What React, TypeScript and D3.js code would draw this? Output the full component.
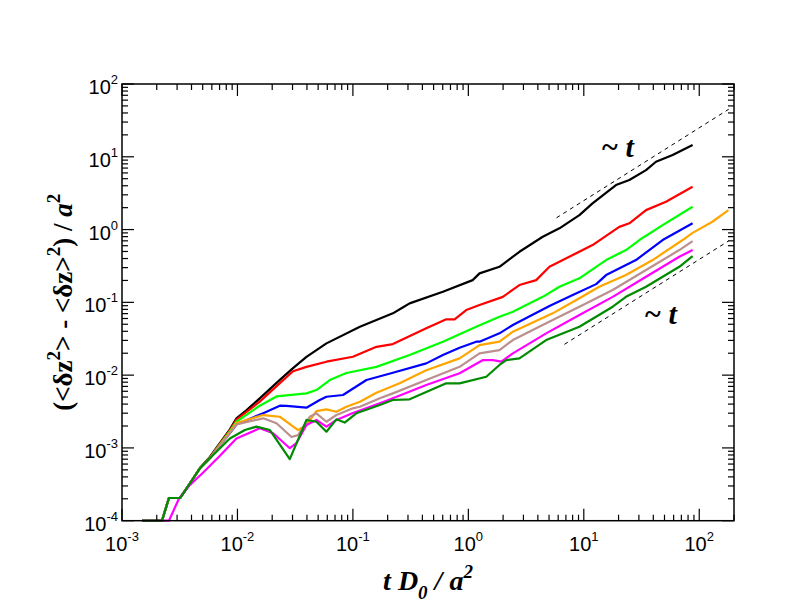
import React, { useEffect, useRef } from "react";
import * as d3 from "d3";

type Pt = [number, number];

// [t D0/a^2, (<dz^2> - <dz>^2)/a^2]
const black: Pt[] = [
  [0.00149, 1e-4], [0.00222, 1e-4], [0.00255, 2.05e-4], [0.00318, 2.05e-4],
  [0.00375, 3.0e-4], [0.00473, 5.3e-4], [0.00577, 7.5e-4], [0.0086, 1.8e-3],
  [0.0098, 2.55e-3], [0.012, 3.3e-3], [0.0156, 4.8e-3], [0.0233, 8.6e-3],
  [0.0303, 0.0125], [0.0396, 0.0178], [0.059, 0.0273], [0.115, 0.0462],
  [0.222, 0.0706], [0.27, 0.085], [0.31, 0.0968], [0.602, 0.14], [1.09, 0.202],
  [1.25, 0.25], [1.86, 0.308], [2.77, 0.495], [4.41, 0.796], [6.15, 1.04],
  [9.16, 1.58], [11.9, 2.29], [19.0, 4.09], [24.8, 4.79], [34.6, 6.56],
  [42.2, 8.54], [58.8, 10.6], [87.6, 14.5],
];

const red: Pt[] = [
  [0.00149, 1e-4], [0.00222, 1e-4], [0.00255, 2.05e-4], [0.00318, 2.05e-4],
  [0.00375, 3.0e-4], [0.00473, 5.25e-4], [0.00577, 7.4e-4], [0.0086, 1.75e-3],
  [0.0098, 2.45e-3], [0.0156, 4.32e-3], [0.0233, 7.78e-3], [0.0303, 0.0113],
  [0.0396, 0.013], [0.059, 0.0153], [0.1, 0.0179], [0.16, 0.0245],
  [0.222, 0.0267], [0.432, 0.044], [0.644, 0.0585], [0.76, 0.0585],
  [0.959, 0.0784], [1.25, 0.0918], [1.99, 0.119], [2.77, 0.173], [3.87, 0.202],
  [5.04, 0.308], [8.02, 0.446], [11.9, 0.612], [20.3, 1.09], [24.8, 1.22],
  [34.6, 1.85], [51.5, 2.41], [87.6, 3.87],
];

const lime: Pt[] = [
  [0.00149, 1e-4], [0.00222, 1e-4], [0.00255, 2.05e-4], [0.00318, 2.05e-4],
  [0.00375, 3.0e-4], [0.00473, 5.25e-4], [0.00577, 7.3e-4], [0.0086, 1.7e-3],
  [0.0098, 2.29e-3], [0.0156, 3.8e-3], [0.0218, 5.1e-3], [0.0396, 5.62e-3],
  [0.0483, 6.24e-3], [0.063, 8.57e-3], [0.0878, 0.0107], [0.16, 0.013],
  [0.31, 0.0189], [0.602, 0.0288], [1.17, 0.0462], [1.86, 0.0634],
  [2.43, 0.0743], [4.41, 0.119], [6.15, 0.164], [9.16, 0.214], [12.8, 0.308],
  [15.6, 0.381], [23.2, 0.523], [30.3, 0.718], [48.2, 1.15], [87.6, 2.06],
];

const blue: Pt[] = [
  [0.00149, 1e-4], [0.00222, 1e-4], [0.00255, 2.05e-4], [0.00318, 2.05e-4],
  [0.00375, 3.0e-4], [0.00473, 5.25e-4], [0.00577, 7.2e-4], [0.0086, 1.6e-3],
  [0.0098, 2.1e-3], [0.0167, 3.0e-3], [0.0233, 3.8e-3], [0.0266, 3.78e-3],
  [0.0396, 3.57e-3], [0.0516, 4.55e-3], [0.059, 5.05e-3], [0.0821, 5.33e-3],
  [0.131, 8.57e-3], [0.222, 0.0108], [0.432, 0.0145], [0.602, 0.0189],
  [0.84, 0.0238], [1.17, 0.0288], [1.25, 0.0288], [1.86, 0.0375],
  [2.43, 0.0488], [5.04, 0.0889], [8.02, 0.126], [12.8, 0.178], [15.6, 0.237],
  [28.3, 0.381], [48.2, 0.718], [87.6, 1.22],
];

const orange: Pt[] = [
  [0.00149, 1e-4], [0.00222, 1e-4], [0.00255, 2.05e-4], [0.00318, 2.05e-4],
  [0.00375, 3.0e-4], [0.00473, 5.25e-4], [0.00577, 7.2e-4], [0.0086, 1.65e-3],
  [0.0098, 2.2e-3], [0.0167, 2.83e-3], [0.0233, 2.68e-3], [0.0335, 1.76e-3],
  [0.0396, 2.06e-3], [0.0483, 3.2e-3], [0.059, 3.39e-3], [0.072, 3.14e-3],
  [0.0878, 3.68e-3], [0.115, 4.32e-3], [0.16, 5.73e-3], [0.254, 7.71e-3],
  [0.432, 0.0117], [0.84, 0.017], [1.25, 0.0259], [1.86, 0.0288],
  [2.43, 0.0395], [5.38, 0.0706], [9.16, 0.114], [13.6, 0.164], [23.2, 0.237],
  [39.5, 0.381], [71.8, 0.718], [87.6, 0.9], [130, 1.28], [179, 1.85],
];

const brown: Pt[] = [
  [0.00149, 1e-4], [0.00222, 1e-4], [0.00255, 2.05e-4], [0.00318, 2.05e-4],
  [0.00375, 3.0e-4], [0.00473, 5.25e-4], [0.00577, 7.2e-4], [0.0086, 1.6e-3],
  [0.0098, 2.1e-3], [0.0167, 2.55e-3], [0.0218, 2.18e-3], [0.0294, 1.41e-3],
  [0.0335, 1.5e-3], [0.0423, 2.68e-3], [0.0483, 2.99e-3], [0.059, 2.29e-3],
  [0.072, 2.83e-3], [0.1, 3.5e-3], [0.115, 3.68e-3], [0.171, 4.8e-3],
  [0.222, 5.62e-3], [0.432, 8.57e-3], [0.84, 0.013], [1.25, 0.0199],
  [1.86, 0.0221], [2.43, 0.0303], [4.72, 0.0515], [9.16, 0.0871],
  [17.8, 0.148], [34.6, 0.278], [67.2, 0.523], [87.6, 0.695],
];

const magenta: Pt[] = [
  [0.00149, 1e-4], [0.00255, 1e-4], [0.00311, 2.0e-4], [0.00388, 3.1e-4],
  [0.00505, 4.6e-4], [0.00705, 7.8e-4], [0.0098, 1.35e-3], [0.0156, 1.86e-3],
  [0.0204, 1.59e-3], [0.0284, 9.9e-4], [0.0324, 1.16e-3], [0.0396, 2.06e-3],
  [0.0483, 2.42e-3], [0.059, 1.96e-3], [0.072, 2.42e-3], [0.1, 3.02e-3],
  [0.171, 4.1e-3], [0.222, 4.8e-3], [0.432, 7.31e-3], [0.84, 0.0106],
  [1.34, 0.0161], [1.63, 0.0161], [1.93, 0.0153], [2.43, 0.0199],
  [4.72, 0.0375], [9.16, 0.067], [17.8, 0.119], [34.6, 0.225], [67.2, 0.423],
  [87.6, 0.523],
];

const darkGreen: Pt[] = [
  [0.00149, 1e-4], [0.00222, 1e-4], [0.00255, 2.05e-4], [0.00318, 2.05e-4],
  [0.00375, 3.0e-4], [0.00473, 5.25e-4], [0.00577, 7.2e-4], [0.0086, 1.35e-3],
  [0.0116, 1.76e-3], [0.0146, 1.96e-3], [0.0191, 1.76e-3], [0.0284, 7.0e-4],
  [0.0396, 2.42e-3], [0.0483, 2.29e-3], [0.059, 1.67e-3], [0.072, 2.47e-3],
  [0.0849, 2.23e-3], [0.107, 2.99e-3], [0.171, 3.88e-3], [0.222, 4.55e-3],
  [0.31, 4.65e-3], [0.644, 7.71e-3], [0.84, 7.71e-3], [1.43, 0.0095],
  [1.86, 0.0138], [2.13, 0.0161], [2.77, 0.017], [4.72, 0.0303],
  [9.16, 0.0462], [17.8, 0.0871], [23.2, 0.119], [34.6, 0.164],
  [67.2, 0.308], [87.6, 0.432],
];

const seriesData = [black, red, lime, blue, orange, brown, magenta, darkGreen];
const seriesColors = [
  "#000000", "#ff0000", "#00ff00", "#0000ff",
  "#ffa500", "#bc8f8f", "#ff00ff", "#008b00",
];

// ~ t guide lines
const upperGuide: Pt[] = [[5.8, 1.45], [180, 45]];
const lowerGuide: Pt[] = [[6.8, 0.0265], [180, 0.7]];

const xDomain: [number, number] = [1e-3, 200];
const yDomain: [number, number] = [1e-4, 1e2];

const sansFont = "'Liberation Sans', Arial, Helvetica, sans-serif";
const serifFont = "'Liberation Serif', 'Times New Roman', Times, serif";

export default function App() {
  const svgRef = useRef<SVGSVGElement>(null);

  useEffect(() => {
    if (!svgRef.current) return;
    const svg = d3.select(svgRef.current);
    svg.selectAll("*").remove();

    const x = d3.scaleLog().domain(xDomain).range([122, 734]);
    const y = d3.scaleLog().domain(yDomain).range([520.7, 84]);
    const [xl, xr] = x.range();
    const [yb, yt] = y.range();

    const isMajor = (v: number) =>
      Math.abs(Math.log10(v) - Math.round(Math.log10(v))) < 1e-6;

    // curves
    const line = d3
      .line<Pt>()
      .x((d) => x(d[0]))
      .y((d) => y(d[1]));

    svg
      .append("g")
      .selectAll("path")
      .data(seriesData)
      .join("path")
      .attr("d", (d) => line(d))
      .attr("fill", "none")
      .attr("stroke", (_, i) => seriesColors[i])
      .attr("stroke-width", 2.2)
      .attr("stroke-linejoin", "round");

    // guides
    svg
      .append("g")
      .selectAll("path")
      .data([upperGuide, lowerGuide])
      .join("path")
      .attr("d", (d) => line(d))
      .attr("fill", "none")
      .attr("stroke", "#000")
      .attr("stroke-width", 1)
      .attr("stroke-dasharray", "4,4");

    // frame
    svg
      .append("rect")
      .attr("x", xl)
      .attr("y", yt)
      .attr("width", xr - xl)
      .attr("height", yb - yt)
      .attr("fill", "none")
      .attr("stroke", "#000")
      .attr("stroke-width", 1.5);

    // ticks on all four sides, pointing in
    const ticks = svg.append("g").attr("stroke", "#000").attr("stroke-width", 1.2);
    x.ticks().forEach((v) => {
      const px = x(v);
      const len = isMajor(v) ? 12 : 6;
      ticks.append("line").attr("x1", px).attr("x2", px).attr("y1", yb).attr("y2", yb - len);
      ticks.append("line").attr("x1", px).attr("x2", px).attr("y1", yt).attr("y2", yt + len);
    });
    y.ticks().forEach((v) => {
      const py = y(v);
      const len = isMajor(v) ? 12 : 6;
      ticks.append("line").attr("x1", xl).attr("x2", xl + len).attr("y1", py).attr("y2", py);
      ticks.append("line").attr("x1", xr).attr("x2", xr - len).attr("y1", py).attr("y2", py);
    });

    // tick labels
    x.ticks().filter(isMajor).forEach((v) => {
      const t = svg
        .append("text")
        .attr("x", x(v))
        .attr("y", yb + 30)
        .attr("text-anchor", "middle")
        .attr("font-family", sansFont)
        .attr("font-size", 20);
      t.append("tspan").text("10");
      t.append("tspan").attr("dy", -10).attr("font-size", 13).text(String(Math.round(Math.log10(v))));
    });
    y.ticks().filter(isMajor).forEach((v) => {
      const t = svg
        .append("text")
        .attr("x", xl - 4)
        .attr("y", y(v) + 10)
        .attr("text-anchor", "end")
        .attr("font-family", sansFont)
        .attr("font-size", 20);
      t.append("tspan").text("10");
      t.append("tspan").attr("dy", -10).attr("font-size", 13).text(String(Math.round(Math.log10(v))));
    });

    // x axis title
    const xt = svg
      .append("text")
      .attr("x", (xl + xr) / 2)
      .attr("y", 590)
      .attr("text-anchor", "middle")
      .attr("font-family", serifFont)
      .attr("font-size", 28)
      .attr("font-weight", "bold")
      .attr("font-style", "italic");
    xt.append("tspan").text("t D");
    xt.append("tspan").attr("dy", 9).attr("font-size", 19).text("0");
    xt.append("tspan").attr("dy", -9).text(" / a");
    xt.append("tspan").attr("dy", -12).attr("font-size", 19).text("2");

    // y axis title
    const yt2 = svg
      .append("text")
      .attr("transform", `translate(72,${(yt + yb) / 2}) rotate(-90)`)
      .attr("text-anchor", "middle")
      .attr("font-family", serifFont)
      .attr("font-size", 27)
      .attr("font-weight", "bold");
    yt2.append("tspan").text("(<δz");
    yt2.append("tspan").attr("dy", -12).attr("font-size", 19).text("2");
    yt2.append("tspan").attr("dy", 12).text("> - <δz>");
    yt2.append("tspan").attr("dy", -12).attr("font-size", 19).text("2");
    yt2.append("tspan").attr("dy", 12).text(") / ");
    yt2.append("tspan").attr("font-style", "italic").text("a");
    yt2.append("tspan").attr("dy", -12).attr("font-size", 19).text("2");

    // slope annotations
    [
      { px: 601, py: 157 },
      { px: 644, py: 324 },
    ].forEach((a) => {
      svg
        .append("text")
        .attr("x", a.px)
        .attr("y", a.py)
        .attr("font-family", serifFont)
        .attr("font-size", 30)
        .attr("font-weight", "bold")
        .attr("font-style", "italic")
        .text("~ t");
    });
  }, []);

  return (
    <svg
      ref={svgRef}
      width={792}
      height={612}
      style={{ position: "absolute", left: 0, top: 0, background: "#fff" }}
    />
  );
}
